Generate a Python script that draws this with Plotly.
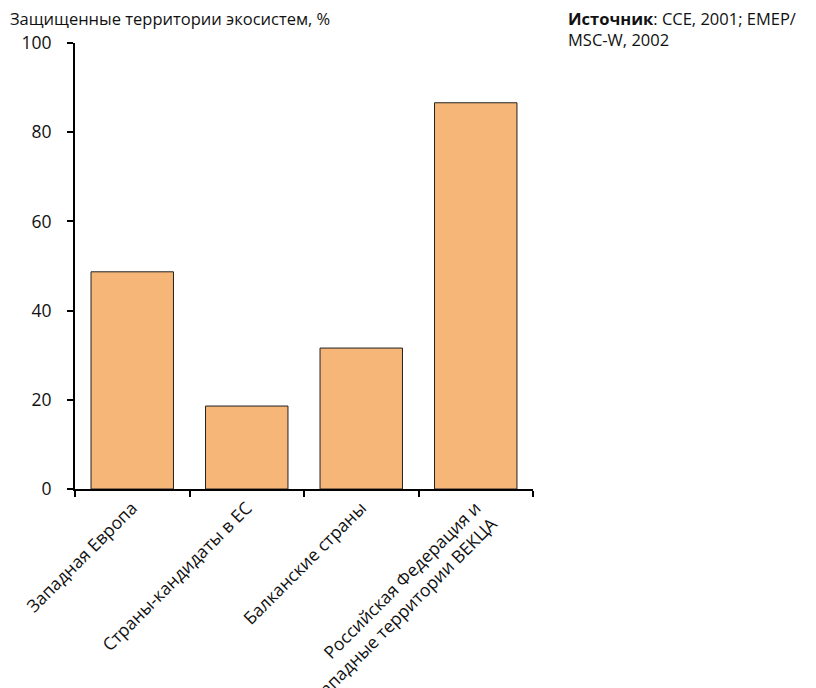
import plotly.graph_objects as go

categories = [
    "Западная Европа",
    "Страны-кандидаты в ЕС",
    "Балканские страны",
    "Российская Федерация и<br>западные территории ВЕКЦА",
]
values = [48.7, 18.6, 31.6, 86.6]
y_ticks = [0, 20, 40, 60, 80, 100]

FONT = "Open Sans"

fig = go.Figure(
    go.Bar(
        x=categories,
        y=values,
        marker=dict(color="#F5B678", line=dict(color="#222222", width=1)),
        width=0.72,
    )
)

fig.update_layout(
    width=816,
    height=688,
    margin=dict(l=67, r=291, t=35, b=207),
    plot_bgcolor="white",
    paper_bgcolor="white",
    showlegend=False,
    font=dict(family=FONT, color="#111111"),
    annotations=[
        dict(
            text="Защищенные территории экосистем, %",
            xref="paper", yref="paper", x=0, y=1.0, xshift=-67, yshift=11,
            xanchor="left", yanchor="bottom", showarrow=False,
            font=dict(size=16.5, family=FONT),
        ),
        dict(
            text="<b>Источник</b>: CCE, 2001; EMEP/<br>MSC-W, 2002",
            xref="paper", yref="paper", x=1.0, y=1.0, xshift=33, yshift=38,
            xanchor="left", yanchor="top", showarrow=False, align="left",
            font=dict(size=16.5, family=FONT),
        ),
    ],
)

fig.update_xaxes(
    automargin=False,
    showline=True, linecolor="black", linewidth=1.8,
    ticks="outside", tickson="boundaries", ticklen=6, tickcolor="black", tickwidth=1.5,
    tickangle=-45, tickfont=dict(size=17.5, family=FONT),
    showgrid=False, zeroline=False,
)
fig.update_yaxes(
    automargin=False,
    range=[0, 100], tickvals=y_ticks,
    showline=True, linecolor="black", linewidth=1.8,
    ticks="outside", ticklen=6, tickcolor="black", tickwidth=1.5,
    ticklabelstandoff=12,
    tickfont=dict(size=17.5, family=FONT),
    showgrid=False, zeroline=False,
)

fig.write_html("out.html")
